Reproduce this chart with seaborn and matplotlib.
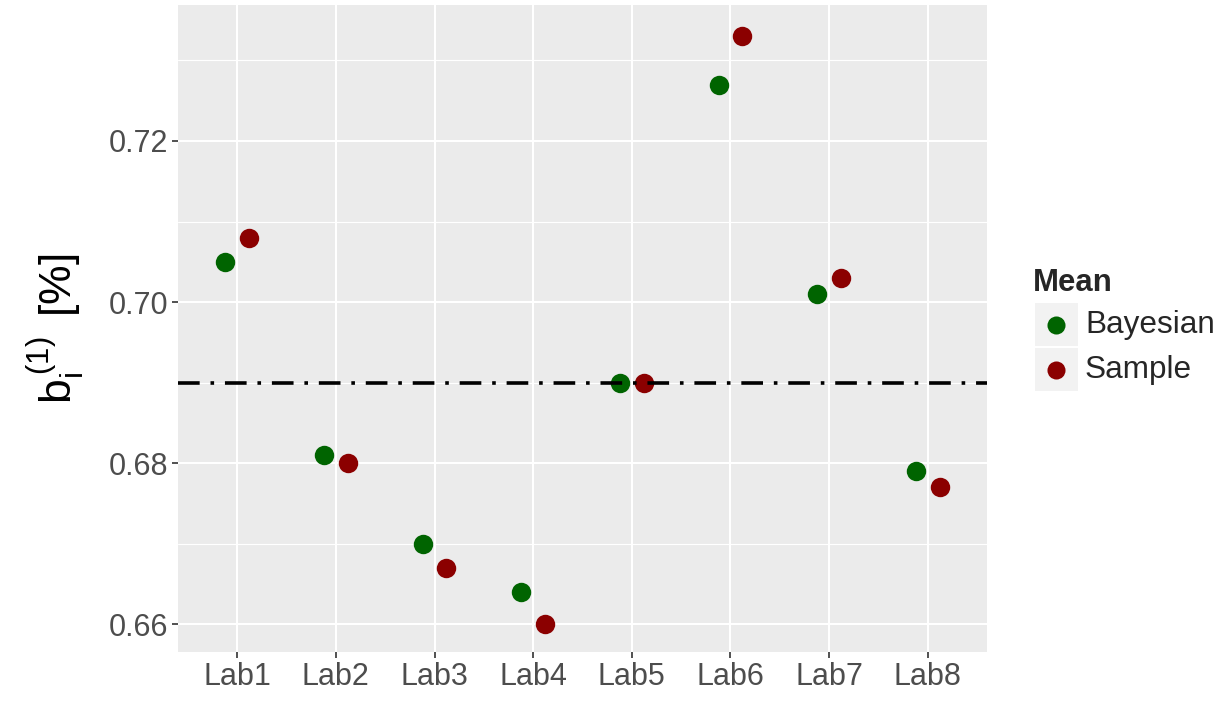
import matplotlib
matplotlib.use("Agg")
import matplotlib.pyplot as plt
import seaborn as sns
import pandas as pd
import numpy as np
from matplotlib.patches import Rectangle
from matplotlib.lines import Line2D

labs = ["Lab1", "Lab2", "Lab3", "Lab4", "Lab5", "Lab6", "Lab7", "Lab8"]
bayesian = [0.705, 0.681, 0.670, 0.664, 0.690, 0.727, 0.701, 0.679]
sample = [0.708, 0.680, 0.667, 0.660, 0.690, 0.733, 0.703, 0.677]
ref_line = 0.69
methods = ["Bayesian", "Sample"]
colors = {"Bayesian": "#006400", "Sample": "#8B0000"}
yticks = [0.66, 0.68, 0.70, 0.72]
yminor = [0.67, 0.69, 0.71, 0.73]

df = pd.DataFrame({
    "Lab": labs * 2,
    "value": bayesian + sample,
    "Mean": ["Bayesian"] * len(labs) + ["Sample"] * len(labs),
})

sns.set_theme(style="darkgrid")
plt.rcParams["font.family"] = ["Liberation Sans", "DejaVu Sans"]
plt.rcParams["mathtext.fontset"] = "custom"
plt.rcParams["mathtext.rm"] = "Liberation Sans"
plt.rcParams["mathtext.it"] = "Liberation Sans"

fig = plt.figure(figsize=(12.27, 7.02), dpi=100)
ax = fig.add_axes([178 / 1227, 1 - 652 / 702, (987 - 178) / 1227, (652 - 5) / 702])
ax.set_facecolor("#EBEBEB")

sns.stripplot(data=df, x="Lab", y="value", hue="Mean", order=labs,
              hue_order=methods, palette=colors, dodge=True, jitter=False,
              size=14, linewidth=0, ax=ax, legend=False, zorder=3)
# narrow the dodge spacing to match ggplot position_dodge
for coll in ax.collections:
    offs = coll.get_offsets()
    if len(offs) == 0:
        continue
    xs = offs[:, 0]
    base = np.round(xs)
    sign = np.sign(xs - base)
    coll.set_offsets(np.column_stack([base + sign * 0.12, offs[:, 1]]))

ax.axhline(ref_line, color="black", lw=2.6, ls=(0, (6, 3, 1, 3)), zorder=4)

ax.set_xlim(-0.6, len(labs) - 1 + 0.6)
ax.set_ylim(0.66 - (652 - 624.3) / 161.5 * 0.02, 0.72 + (141.3 - 5) / 161.5 * 0.02)
ax.set_yticks(yticks)
ax.set_yticks(yminor, minor=True)
ax.set_yticklabels([f"{v:.2f}" for v in yticks])
ax.grid(True, which="major", color="white", lw=1.5)
ax.grid(True, which="minor", axis="y", color="white", lw=0.8)
ax.set_axisbelow(True)
for s in ax.spines.values():
    s.set_visible(False)
ax.tick_params(axis="both", which="major", labelsize=22, labelcolor="#4D4D4D",
               color="#333333", length=4, width=1.2, pad=3, direction="out",
               bottom=True, left=True)
ax.tick_params(axis="y", which="minor", length=0)
ax.set_xlabel("")
ax.set_ylabel(r"$\mathregular{b_i^{\,(1)}}\,$ [%]", fontsize=32, color="black", labelpad=16)

# legend
W, H = 1227, 702
fig.text(1033 / W, 1 - 283 / H, "Mean", fontsize=22.4, fontweight="bold", va="center", ha="left")
key_tops = [303, 348]
for m, top in zip(methods, key_tops):
    fig.patches.append(Rectangle((1035 / W, 1 - (top + 43) / H), 43 / W, 43 / H,
                                 transform=fig.transFigure, facecolor="#F2F2F2",
                                 edgecolor="none", zorder=1))
    fig.lines.append(Line2D([1056 / W], [1 - (top + 21.5) / H], marker="o", markersize=13,
                            color=colors[m], markeredgewidth=0, transform=fig.transFigure))
    fig.text(1085 / W, 1 - (top + 22) / H, m, fontsize=22.7, va="center", ha="left")

fig.savefig("out.png", dpi=100)
